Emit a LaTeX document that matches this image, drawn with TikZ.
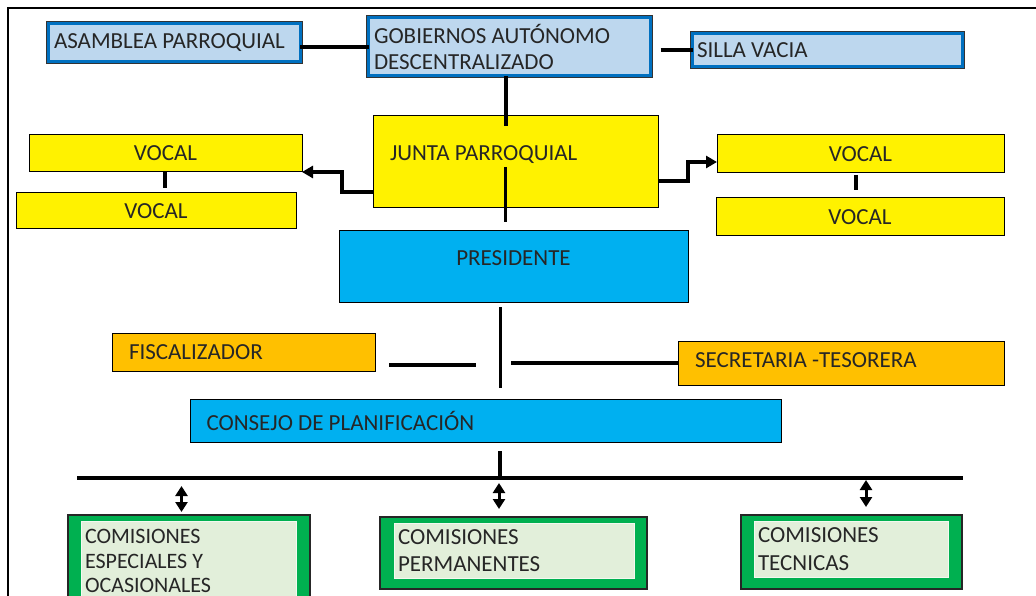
\documentclass[tikz,border=0pt]{standalone}
\usepackage{fontspec}
\setmainfont{Carlito}
\usetikzlibrary{arrows.meta,calc,backgrounds}
\definecolor{paleblue}{RGB}{189,215,238}
\definecolor{bandblue}{RGB}{0,112,192}
\definecolor{skyblue}{RGB}{0,176,240}
\definecolor{amber}{RGB}{255,192,0}
\definecolor{grassgreen}{RGB}{0,176,80}
\definecolor{palegreen}{RGB}{226,239,218}

\begin{document}
\begin{tikzpicture}[x=1pt,y=-1pt]
\useasboundingbox (0,0) rectangle (1036,596);
\draw[line width=1.3pt] (8,596) -- (8,8) -- (1036,8);

\begin{scope}[every node/.style={anchor=north west,rectangle,outer sep=0pt,inner ysep=0pt,
              fill=paleblue,draw=bandblue,line width=3pt,preaction={draw=black!80,line width=5pt},
              align=flush left,text=black!85,font=\fontsize{23}{26}\selectfont}]
    \node[minimum width=251.5pt,minimum height=37.5pt,inner xsep=5.5pt,text width=240.5pt] (asamblea) at (48.5,24) {ASAMBLEA PARROQUIAL};
    \node[minimum width=281.5pt,minimum height=58pt,inner xsep=5.5pt,text width=270.5pt] (gob) at (368.5,18) {GOBIERNOS AUTÓNOMO\\DESCENTRALIZADO};
    \node[minimum width=269.5pt,minimum height=33.5pt,inner xsep=4.5pt,text width=260.5pt] (silla) at (692.5,33.5) {SILLA VACIA};
\end{scope}

\begin{scope}[every node/.style={anchor=north west,rectangle,outer sep=0pt,inner ysep=0pt,
              fill=yellow,draw=black,line width=1pt,text=black!85,font=\fontsize{23}{26}\selectfont}]
    \node[minimum width=273pt,minimum height=37pt] (vocal1) at (29,135) {VOCAL};
    \node[minimum width=280pt,minimum height=36pt] (vocal2) at (16,193) {VOCAL};
    \node[minimum width=287pt,minimum height=38pt] (vocal3) at (717,135) {VOCAL};
    \node[minimum width=288pt,minimum height=38pt] (vocal4) at (716,198) {VOCAL};
    \node[minimum width=285pt,minimum height=92pt,inner xsep=17pt,text width=251pt,align=flush left,text depth=18pt] (junta) at (373,116) {JUNTA PARROQUIAL};
\end{scope}

\begin{scope}[every node/.style={anchor=north west,rectangle,outer sep=0pt,inner ysep=0pt,
              fill=skyblue,draw=black,line width=1pt,text=black!85,font=\fontsize{23}{26}\selectfont}]
    \node[minimum width=349pt,minimum height=71pt,text depth=17pt] (pres) at (339,231) {PRESIDENTE};
    \node[minimum width=591pt,minimum height=43pt,inner xsep=16.5pt,text width=558pt,align=flush left] (consejo) at (190,399) {CONSEJO DE PLANIFICACIÓN};
\end{scope}

\begin{scope}[every node/.style={anchor=north west,rectangle,outer sep=0pt,inner ysep=0pt,
              fill=amber,draw=black,line width=1pt,text=black!85,align=flush left,font=\fontsize{23}{26}\selectfont}]
    \node[minimum width=263pt,minimum height=38pt,inner xsep=17pt,text width=229pt] (fiscal) at (112,333) {FISCALIZADOR};
    \node[minimum width=326pt,minimum height=44pt,inner xsep=17pt,text width=292pt,text depth=6pt] (secre) at (678,341) {SECRETARIA -TESORERA};
\end{scope}

\begin{scope}[every node/.style={anchor=north west,rectangle,outer sep=0pt,inner ysep=0pt,inner xsep=4pt,
              fill=palegreen,draw=white!60!palegreen,line width=1pt,
              align=flush left,text=black!85,font=\fontsize{23}{27.5}\selectfont}]
    \node[minimum width=215pt,minimum height=80pt,text width=207pt,font=\fontsize{22}{24.5}\selectfont] (com1) at (81,521) {COMISIONES\\ESPECIALES Y\\OCASIONALES};
    \node[minimum width=240pt,minimum height=55pt,text width=232pt] (com2) at (394,523) {COMISIONES\\PERMANENTES};
    \node[minimum width=194pt,minimum height=56pt,text width=186pt] (com3) at (754,521) {COMISIONES\\TECNICAS};
\end{scope}

% green frames behind the commissions
\begin{scope}[on background layer,greenframe/.style={fill=grassgreen,draw=black!85,line width=1.2pt}]
    \draw[greenframe] ($(com1.north west)+(-13,-6)$) rectangle ($(com1.south east)+(14,12)$);
    \draw[greenframe] ($(com2.north west)+(-14,-6)$) rectangle ($(com2.south east)+(13,11)$);
    \draw[greenframe] ($(com3.north west)+(-13,-6)$) rectangle ($(com3.south east)+(14,12)$);
\end{scope}

% links
\coordinate (hubtop) at (500,307);
\coordinate (hubbot) at (500,388);
\coordinate (busL) at (77,478);
\coordinate (busR) at (963,478);

\begin{scope}[line width=4pt]
    \draw (gob.west) -- (gob.west -| asamblea.east);
    \draw ([xshift=-32pt]silla.west) -- (silla.west);
    \draw ([xshift=-3.5pt]gob.south) -- ++(0,50);
    \draw[line width=3pt] ([xshift=-10.5pt,yshift=41pt]junta.south) -- ++(0,55);
    \draw[-{Triangle[length=11pt,width=12pt]}] ([yshift=-30pt]junta.west) -- ++(-31,0) |- (vocal1.south east);
    \draw[-{Triangle[length=11pt,width=12pt]}] ([yshift=-19pt]junta.east) -- ++(30,0) |- ([yshift=-8pt]vocal3.west);
    \draw ([xshift=-1pt]vocal1.south) -- ++(0,16);
    \draw ([xshift=-5pt,yshift=-2pt]vocal3.south) -- ++(0,15);
    \draw[line width=3pt] (hubtop) -- (hubbot);
    \draw ([xshift=14pt,yshift=-13pt]fiscal.east) -- ++(87,0);
    \draw (secre.west) -- ++(-167,0);
    \draw ([yshift=-9pt]consejo.south -| hubtop) -- ++(0,28);
    \draw (busL) -- (busR);
\end{scope}

\begin{scope}[line width=3pt,{Triangle[length=10pt,width=12pt]}-{Triangle[length=10pt,width=12pt]}]
    \draw ([xshift=-7pt,yshift=35pt]com1.north) -- ++(0,26);
    \draw ([xshift=-15pt,yshift=40pt]com2.north) -- ++(0,26);
    \draw ([xshift=15pt,yshift=41pt]com3.north) -- ++(0,27);
\end{scope}
\end{tikzpicture}
\end{document}
